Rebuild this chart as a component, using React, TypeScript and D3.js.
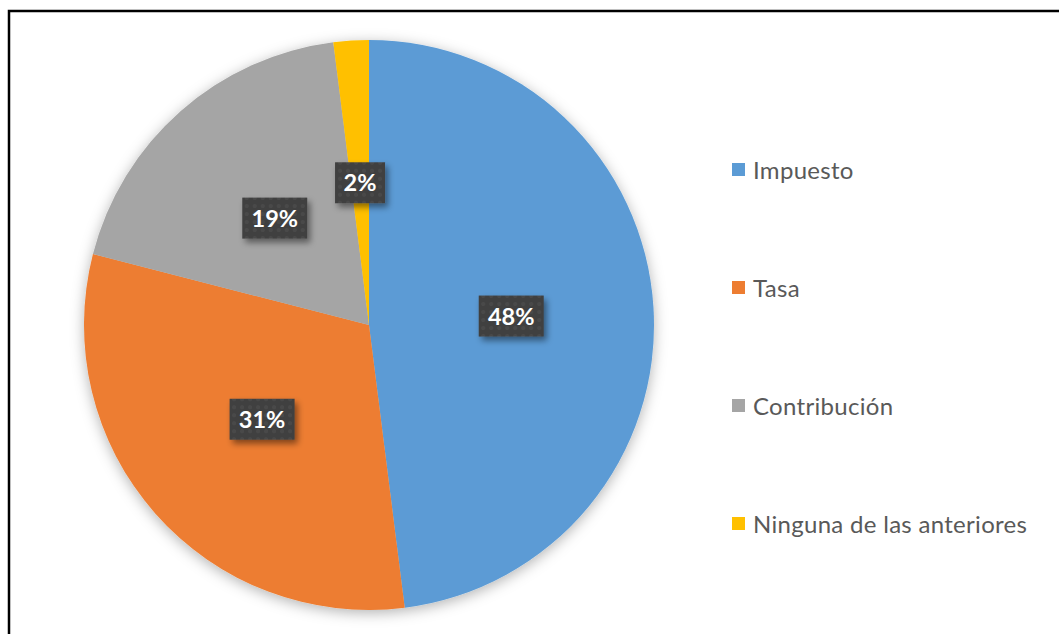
import React from "react";
import * as d3 from "d3";

const categories = ["Impuesto", "Tasa", "Contribución", "Ninguna de las anteriores"];
const values = [48, 31, 19, 2];
const labels = ["48%", "31%", "19%", "2%"];
const colors = ["#5B9BD5", "#ED7D31", "#A5A5A5", "#FFC000"];

const W = 1059;
const H = 634;
const cx = 369;
const cy = 325;
const R = 285;
const FONT = "Lato, 'Open Sans', sans-serif";

export default function App() {
  const pie = d3.pie<number>().sort(null).value((d) => d);
  const arcs = pie(values);
  const arcGen = d3.arc<d3.PieArcDatum<number>>().innerRadius(0).outerRadius(R);
  const legendY = d3.scalePoint<string>().domain(categories).range([171, 525]);

  return (
    <svg
      width={W}
      height={H}
      style={{ position: "absolute", left: 0, top: 0, background: "#fff" }}
    >
      <defs>
        <filter id="pieShadow" x="-20%" y="-20%" width="140%" height="140%">
          <feDropShadow dx="0" dy="3" stdDeviation="7" floodColor="#000" floodOpacity="0.3" />
        </filter>
        <filter id="lblShadow" x="-30%" y="-30%" width="160%" height="170%">
          <feDropShadow dx="3" dy="4" stdDeviation="3" floodColor="#000" floodOpacity="0.45" />
        </filter>
        <pattern id="dots" width="8" height="8" patternUnits="userSpaceOnUse">
          <rect width="8" height="8" fill="#404040" />
          <circle cx="4" cy="4" r="2" fill="#4a4a4a" />
        </pattern>
      </defs>
      <rect x={9} y={11} width={W + 10} height={H + 10} fill="#fff" stroke="#000" strokeWidth={2.5} />
      <g transform={`translate(${cx},${cy})`} filter="url(#pieShadow)">
        {arcs.map((a, i) => (
          <path key={i} d={arcGen(a) || ""} fill={colors[i]} />
        ))}
      </g>
      <g transform={`translate(${cx},${cy})`}>
        {arcs.map((a, i) => {
          const [x, y] = arcGen.centroid(a);
          const w = labels[i].length === 2 ? 50 : 65;
          const h = 41;
          return (
            <g key={i} transform={`translate(${x},${y})`}>
              <rect x={-w / 2} y={-h / 2} width={w} height={h} fill="url(#dots)" filter="url(#lblShadow)" />
              <text
                textAnchor="middle"
                dy="0.36em"
                fill="#fff"
                fontFamily={FONT}
                fontWeight={700}
                fontSize={23.5}
              >
                {labels[i]}
              </text>
            </g>
          );
        })}
      </g>
      <g>
        {categories.map((c, i) => {
          const y = legendY(c) as number;
          return (
            <g key={c}>
              <rect x={732} y={y - 8} width={13} height={13} fill={colors[i]} />
              <text
                x={753}
                y={y}
                dy="0.35em"
                fill="#595959"
                fontFamily={FONT}
                fontSize={24}
                letterSpacing={0.3}
              >
                {c}
              </text>
            </g>
          );
        })}
      </g>
    </svg>
  );
}
